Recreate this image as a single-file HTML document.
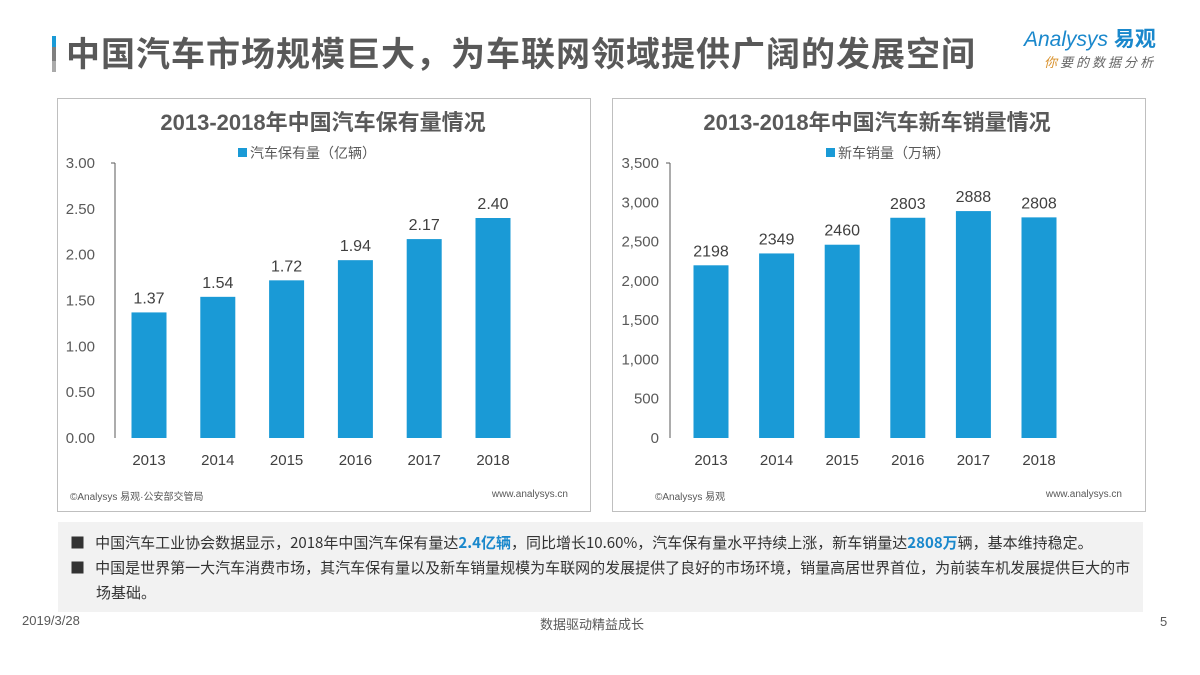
<!DOCTYPE html>
<html><head><meta charset="utf-8"><style>
body{margin:0;width:1200px;height:675px;background:#fff;font-family:"Liberation Sans","Noto Sans CJK SC",sans-serif;position:relative;overflow:hidden}
.abs{position:absolute}
.panel{position:absolute;border:1px solid #bfbfbf;top:98px;height:412px;width:532px}
svg text{font-family:"Liberation Sans","Noto Sans CJK SC",sans-serif}
</style></head><body>
<div class="abs" style="left:52px;top:36px;width:4px;height:36px;background:linear-gradient(#1a9ad6 0 30%,#7f7f7f 30% 70%,#aaa 70%)"></div>
<div class="abs" style="left:66px;top:30px;font-size:34px;font-weight:bold;color:#595959;letter-spacing:1px;font-family:'Noto Sans CJK SC',sans-serif;line-height:44px">中国汽车市场规模巨大，为车联网领域提供广阔的发展空间</div>
<div class="abs" style="left:1024px;top:26px;width:160px">
<div style="color:#1a88cc;font-size:21px;font-style:italic;line-height:24px">Analysys <b style="font-style:normal;font-family:'Noto Sans CJK SC'">易观</b></div>
<div style="color:#666;font-size:13px;font-style:italic;letter-spacing:3px;padding-left:20px;font-family:'Noto Sans CJK SC'"><span style="color:#d8902a">你</span>要的数据分析</div></div>

<div class="panel" style="left:57px"></div>
<div class="panel" style="left:612px"></div>

<svg class="abs" style="left:0;top:0" width="1200" height="675" id="charts">
<text x="323" y="130" text-anchor="middle" font-size="22" font-weight="bold" fill="#595959">2013-2018年中国汽车保有量情况</text>
<rect x="238" y="148" width="9" height="9" fill="#1a9ad6"/>
<text x="250" y="158" font-size="14" fill="#595959">汽车保有量（亿辆）</text>
<text x="877" y="130" text-anchor="middle" font-size="22" font-weight="bold" fill="#595959">2013-2018年中国汽车新车销量情况</text>
<rect x="826" y="148" width="9" height="9" fill="#1a9ad6"/>
<text x="838" y="158" font-size="14" fill="#595959">新车销量（万辆）</text>
<text x="70" y="500" font-size="10" fill="#595959">©Analysys 易观·公安部交管局</text>
<text x="568" y="497" text-anchor="end" font-size="10" fill="#595959">www.analysys.cn</text>
<text x="655" y="500" font-size="10" fill="#595959">©Analysys 易观</text>
<text x="1122" y="497" text-anchor="end" font-size="10" fill="#595959">www.analysys.cn</text>
<g id="g1"></g><g id="g2"></g>
</svg>

<div class="abs" style="left:58px;top:522px;width:1085px;height:90px;background:#f2f2f2;font-size:15px;color:#333;font-family:'Noto Sans CJK SC',sans-serif">
<div style="position:absolute;left:12px;top:8px;width:1065px;line-height:25px">
<div style="padding-left:26px;text-indent:-26px">■&nbsp;&nbsp;&nbsp;中国汽车工业协会数据显示，2018年中国汽车保有量达<b style="color:#1a88cc">2.4亿辆</b>，同比增长10.60%，汽车保有量水平持续上涨，新车销量达<b style="color:#1a88cc">2808万</b>辆，基本维持稳定。</div>
<div style="padding-left:26px;text-indent:-26px">■&nbsp;&nbsp;&nbsp;中国是世界第一大汽车消费市场，其汽车保有量以及新车销量规模为车联网的发展提供了良好的市场环境，销量高居世界首位，为前装车机发展提供巨大的市场基础。</div>
</div></div>
<div class="abs" style="left:22px;top:613px;font-size:13px;color:#595959">2019/3/28</div>
<div class="abs" style="left:540px;top:614px;font-size:13px;color:#595959;font-family:'Noto Sans CJK SC'">数据驱动精益成长</div>
<div class="abs" style="left:1160px;top:614px;font-size:13px;color:#595959">5</div>

<script>
const categories=["2013","2014","2015","2016","2017","2018"];
const ownership=[1.37,1.54,1.72,1.94,2.17,2.40];
const ownershipTicks=["0.00","0.50","1.00","1.50","2.00","2.50","3.00"];
const sales=[2198,2349,2460,2803,2888,2808];
const salesTicks=["0","500","1,000","1,500","2,000","2,500","3,000","3,500"];
const NS="http://www.w3.org/2000/svg";
function mk(g,t,a,txt){const e=document.createElementNS(NS,t);for(const k in a)e.setAttribute(k,a[k]);if(txt!==undefined)e.textContent=txt;g.appendChild(e);return e;}
function draw(gid,vals,ticks,max,axisX,labelRight,x0,step,labelFmt,pre){
 const g=document.getElementById(gid);const y0=438,top=163;
 const y=v=>y0-(v/max)*(y0-top);
 ticks.forEach((t,i)=>{const v=max*i/(ticks.length-1);const e=mk(g,'text',{x:labelRight,y:y(v)+5,'text-anchor':'end','font-size':15,fill:'#595959'},t);
 
 });
 const ax=mk(g,'line',{x1:axisX,y1:top,x2:axisX,y2:y0,stroke:'#595959','stroke-width':1});
 
 
 mk(g,'line',{x1:axisX-4,y1:top,x2:axisX,y2:top,stroke:'#595959'});
 vals.forEach((v,i)=>{const cx=x0+i*step;
 const r=mk(g,'rect',{x:cx-17.5,y:y(v),width:35,height:y0-y(v),fill:'#1a9ad6'});
 
 
 const l=mk(g,'text',{x:cx,y:y(v)-9,'text-anchor':'middle','font-size':16,fill:'#404040'},labelFmt(v));
 
 
 const c=mk(g,'text',{x:cx,y:465,'text-anchor':'middle','font-size':15,fill:'#404040'},categories[i]);
 
 });
}
draw('g1',ownership,ownershipTicks,3,115,95,149,68.8,v=>v.toFixed(2),'left');
draw('g2',sales,salesTicks,3500,670,659,711,65.6,v=>String(v),'right');
</script>
</body></html>
